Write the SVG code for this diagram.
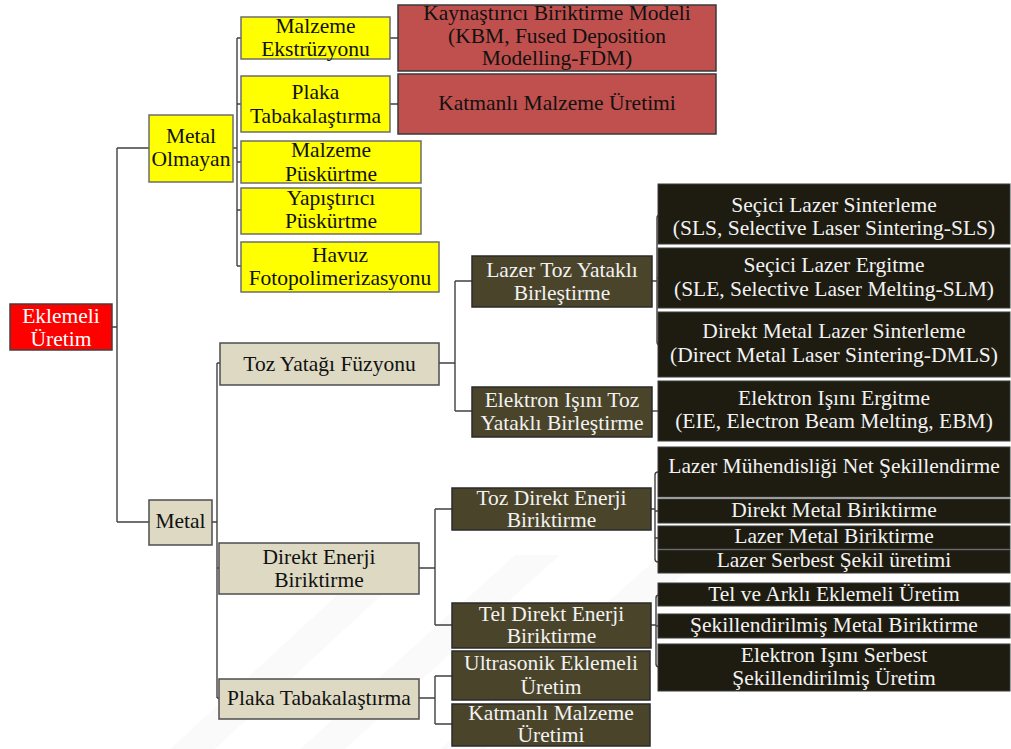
<svg xmlns="http://www.w3.org/2000/svg" width="1011" height="749" viewBox="0 0 1011 749" font-family="'Liberation Serif', 'DejaVu Serif', serif">
  <style>
    text { font-family: "Liberation Serif", "DejaVu Serif", serif; font-size: 21.5px; text-anchor: middle; }
    .root rect { fill: #FF0000; stroke: #404040; stroke-width: 1.5; }
    .root text { fill: #FFFFFF; }
    .yel rect { fill: #FFFF00; stroke: #6d6d6d; stroke-width: 1.5; }
    .red rect { fill: #C0504D; stroke: #3a3a3a; stroke-width: 1.5; }
    .tan rect { fill: #DDD9C3; stroke: #4d4d4d; stroke-width: 1.5; }
    .yel text, .red text, .tan text { fill: #111111; }
    .olv rect { fill: #4A452A; stroke: #2a2a2a; stroke-width: 1.5; }
    .drk rect { fill: #1E1C11; stroke: #3a3a3a; stroke-width: 1; }
    .olv text, .drk text { fill: #F2F2F2; }
    #connectors path { fill: none; stroke: #404040; stroke-width: 1.4; }
    .wm { fill: #000000; opacity: 0.02; }
  </style>

  <!-- faint background watermark bands -->
  <g id="watermark">
    <polygon class="wm" points="170,749 215,749 420,560 375,560"/>
    <polygon class="wm" points="300,749 345,749 560,555 515,555"/>
    <polygon class="wm" points="440,749 485,749 700,560 655,560"/>
  </g>

  <g id="connectors">
    <path d="M112,327 H117 M117,148 V522 M117,148 H149 M117,522 H149"/>
    <path d="M233,148 H237 M237,38 V266 M237,38 H241 M237,104 H241 M237,162 H241 M237,210 H241 M237,266 H241"/>
    <path d="M390,38 H398 M390,104 H398"/>
    <path d="M212,522 H217 M217,363 V698 M217,363 H220 M217,568 H219 M217,698 H219"/>
    <path d="M439,363 H455 M455,281 V411 M455,281 H472 M455,411 H472"/>
    <path d="M652,281 H657 M660,215 Q657,215 657,218 V342 Q657,345 660,345 M657,278 H660"/>
    <path d="M652,411 H658"/>
    <path d="M419,568 H435 M435,509 V625 M435,509 H452 M435,625 H452"/>
    <path d="M419,698 H435 M435,676 V724 M435,676 H452 M435,724 H452"/>
    <path d="M651,509 H655 M658,472 Q655,472 655,475 V559 Q655,562 658,562 M655,511 H658 M655,538 H658"/>
    <path d="M651,625 H656 M659,595 Q656,595 656,598 V664 Q656,667 659,667 M656,626 H659"/>
  </g>

  <g id="n-eklemeli" class="root">
    <rect x="10" y="304" width="102" height="46"/>
    <text x="61" y="323">Eklemeli</text>
    <text x="61" y="346">Üretim</text>
  </g>

  <g id="n-metal-olmayan" class="yel">
    <rect x="149" y="115" width="84" height="67"/>
    <text x="191" y="143">Metal</text>
    <text x="191" y="166">Olmayan</text>
  </g>
  <g id="n-malzeme-ekstruzyonu" class="yel">
    <rect x="241" y="17" width="149" height="42"/>
    <text x="315.5" y="33">Malzeme</text>
    <text x="315.5" y="56">Ekstrüzyonu</text>
  </g>
  <g id="n-plaka-tabakalastirma-1" class="yel">
    <rect x="241" y="76" width="149" height="56"/>
    <text x="315.5" y="99">Plaka</text>
    <text x="315.5" y="123">Tabakalaştırma</text>
  </g>
  <g id="n-malzeme-puskurtme" class="yel">
    <rect x="241" y="141" width="180" height="42"/>
    <text x="331" y="157">Malzeme</text>
    <text x="331" y="181">Püskürtme</text>
  </g>
  <g id="n-yapistirici-puskurtme" class="yel">
    <rect x="241" y="188" width="180" height="46"/>
    <text x="331" y="205">Yapıştırıcı</text>
    <text x="331" y="228">Püskürtme</text>
  </g>
  <g id="n-havuz" class="yel">
    <rect x="241" y="242" width="198" height="50"/>
    <text x="340" y="262">Havuz</text>
    <text x="340" y="285">Fotopolimerizasyonu</text>
  </g>

  <g id="n-kbm" class="red">
    <rect x="398" y="5" width="318" height="66"/>
    <text x="557" y="20">Kaynaştırıcı Biriktirme Modeli</text>
    <text x="557" y="43">(KBM, Fused Deposition</text>
    <text x="557" y="65">Modelling-FDM)</text>
  </g>
  <g id="n-katmanli-1" class="red">
    <rect x="398" y="74" width="318" height="60"/>
    <text x="557" y="110">Katmanlı Malzeme Üretimi</text>
  </g>

  <g id="n-metal" class="tan">
    <rect x="149" y="500" width="63" height="45"/>
    <text x="180.5" y="528">Metal</text>
  </g>
  <g id="n-toz-yatagi" class="tan">
    <rect x="220" y="343" width="219" height="42"/>
    <text x="329.5" y="371">Toz Yatağı Füzyonu</text>
  </g>
  <g id="n-direkt-enerji" class="tan">
    <rect x="219" y="543" width="200" height="51"/>
    <text x="319" y="564">Direkt Enerji</text>
    <text x="319" y="587">Biriktirme</text>
  </g>
  <g id="n-plaka-tabakalastirma-2" class="tan">
    <rect x="219" y="679" width="200" height="40"/>
    <text x="319" y="705">Plaka Tabakalaştırma</text>
  </g>

  <g id="n-lazer-toz" class="olv">
    <rect x="472" y="256" width="180" height="51"/>
    <text x="562" y="277">Lazer Toz Yataklı</text>
    <text x="562" y="300">Birleştirme</text>
  </g>
  <g id="n-elektron-toz" class="olv">
    <rect x="472" y="387" width="180" height="50"/>
    <text x="562" y="407">Elektron Işını Toz</text>
    <text x="562" y="430">Yataklı Birleştirme</text>
  </g>
  <g id="n-toz-direkt" class="olv">
    <rect x="452" y="488" width="199" height="42"/>
    <text x="551.5" y="505">Toz Direkt Enerji</text>
    <text x="551.5" y="527">Biriktirme</text>
  </g>
  <g id="n-tel-direkt" class="olv">
    <rect x="452" y="603" width="199" height="45"/>
    <text x="551.5" y="621">Tel Direkt Enerji</text>
    <text x="551.5" y="643">Biriktirme</text>
  </g>
  <g id="n-ultrasonik" class="olv">
    <rect x="452" y="651" width="198" height="49"/>
    <text x="551" y="670">Ultrasonik Eklemeli</text>
    <text x="551" y="694">Üretim</text>
  </g>
  <g id="n-katmanli-2" class="olv">
    <rect x="452" y="704" width="198" height="42"/>
    <text x="551" y="720">Katmanlı Malzeme</text>
    <text x="551" y="742">Üretimi</text>
  </g>

  <g id="n-sls" class="drk">
    <rect x="658" y="184" width="352" height="60"/>
    <text x="834" y="212">Seçici Lazer Sinterleme</text>
    <text x="834" y="235">(SLS, Selective Laser Sintering-SLS)</text>
  </g>
  <g id="n-slm" class="drk">
    <rect x="658" y="248" width="352" height="60"/>
    <text x="834" y="272">Seçici Lazer Ergitme</text>
    <text x="834" y="296">(SLE, Selective Laser Melting-SLM)</text>
  </g>
  <g id="n-dmls" class="drk">
    <rect x="658" y="312" width="352" height="65"/>
    <text x="834" y="338">Direkt Metal Lazer Sinterleme</text>
    <text x="834" y="362">(Direct Metal Laser Sintering-DMLS)</text>
  </g>
  <g id="n-ebm" class="drk">
    <rect x="658" y="381" width="352" height="60"/>
    <text x="834" y="405">Elektron Işını Ergitme</text>
    <text x="834" y="428">(EIE, Electron Beam Melting, EBM)</text>
  </g>
  <g id="n-lazer-muh" class="drk">
    <rect x="658" y="447" width="352" height="50"/>
    <text x="834" y="473">Lazer Mühendisliği Net Şekillendirme</text>
  </g>
  <g id="n-direkt-metal" class="drk">
    <rect x="658" y="499" width="352" height="24"/>
    <text x="834" y="517">Direkt Metal Biriktirme</text>
  </g>
  <g id="n-lazer-metal" class="drk">
    <rect x="658" y="526" width="352" height="23"/>
    <text x="834" y="543">Lazer Metal Biriktirme</text>
  </g>
  <g id="n-lazer-serbest" class="drk">
    <rect x="658" y="550" width="352" height="23"/>
    <text x="834" y="567">Lazer Serbest Şekil üretimi</text>
  </g>
  <g id="n-tel-arkli" class="drk">
    <rect x="658" y="583" width="352" height="23"/>
    <text x="834" y="601">Tel ve Arklı Eklemeli Üretim</text>
  </g>
  <g id="n-sekil-metal" class="drk">
    <rect x="658" y="614" width="352" height="24"/>
    <text x="834" y="632">Şekillendirilmiş Metal Biriktirme</text>
  </g>
  <g id="n-elektron-serbest" class="drk">
    <rect x="658" y="644" width="352" height="47"/>
    <text x="834" y="662">Elektron Işını Serbest</text>
    <text x="834" y="685">Şekillendirilmiş Üretim</text>
  </g>
</svg>
